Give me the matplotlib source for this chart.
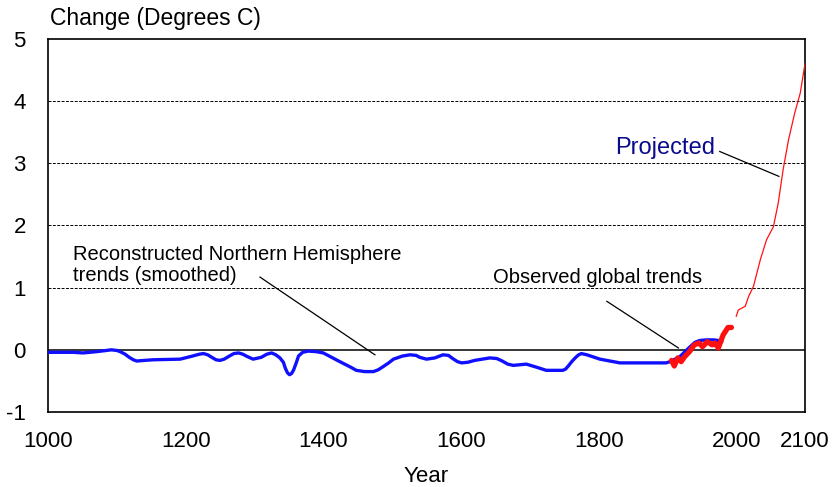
import matplotlib
matplotlib.use("Agg")
import matplotlib.pyplot as plt

plt.rcParams['font.family'] = ['Liberation Sans', 'DejaVu Sans']
plt.rcParams['axes.unicode_minus'] = False

# Reconstructed Northern Hemisphere trends (smoothed)
recon_years = [1000, 1037, 1051, 1070, 1085, 1092, 1100, 1105, 1112, 1118, 1124, 1129, 1140, 1153,
               1192, 1210, 1220, 1226, 1232, 1238, 1244, 1250, 1256, 1262, 1270, 1277, 1283, 1288,
               1298, 1310, 1318, 1325, 1331, 1337, 1342, 1345, 1348, 1351, 1354, 1357, 1361, 1364,
               1370, 1378, 1390, 1400, 1424, 1440, 1448, 1460, 1473, 1480, 1487, 1495, 1502, 1515,
               1526, 1535, 1540, 1550, 1562, 1574, 1582, 1588, 1595, 1601, 1610, 1620, 1642, 1652,
               1660, 1668, 1676, 1695, 1710, 1724, 1748, 1752, 1756, 1761, 1766, 1771, 1775, 1783,
               1802, 1831, 1889, 1898, 1904, 1918, 1933, 1940, 1947, 1957, 1967, 1974, 1979]
recon_vals = [-0.04, -0.04, -0.05, -0.03, -0.01, 0.00, -0.01, -0.03, -0.07, -0.12, -0.16, -0.18, -0.17, -0.16,
              -0.15, -0.10, -0.07, -0.06, -0.08, -0.12, -0.16, -0.17, -0.15, -0.11, -0.06, -0.05, -0.07, -0.10,
              -0.15, -0.12, -0.07, -0.05, -0.08, -0.13, -0.20, -0.30, -0.37, -0.40, -0.38, -0.32, -0.20, -0.10,
              -0.04, -0.02, -0.03, -0.05, -0.19, -0.28, -0.33, -0.35, -0.35, -0.32, -0.27, -0.21, -0.15, -0.10,
              -0.08, -0.09, -0.12, -0.15, -0.13, -0.08, -0.09, -0.14, -0.19, -0.21, -0.20, -0.17, -0.13, -0.14,
              -0.18, -0.23, -0.25, -0.23, -0.28, -0.33, -0.33, -0.31, -0.26, -0.19, -0.13, -0.08, -0.06, -0.08,
              -0.15, -0.21, -0.21, -0.21, -0.19, -0.11, 0.05, 0.12, 0.15, 0.16, 0.16, 0.15, 0.13]

# Observed global trends
obs_years = [1906, 1910, 1915, 1920, 1925, 1932, 1939, 1946, 1951, 1958, 1965, 1969, 1974, 1981, 1988, 1993]
obs_vals = [-0.17, -0.26, -0.13, -0.19, -0.11, -0.03, 0.08, 0.11, 0.05, 0.13, 0.08, 0.11, 0.03, 0.24, 0.36, 0.36]

# Projected
proj_years = [2000, 2003, 2013, 2018, 2025, 2035, 2044, 2054, 2061, 2068, 2076, 2085, 2093, 2100]
proj_vals = [0.54, 0.64, 0.70, 0.86, 1.02, 1.45, 1.77, 1.98, 2.36, 2.89, 3.38, 3.81, 4.13, 4.61]

x_ticks = [1000, 1200, 1400, 1600, 1800, 2000, 2100]
y_ticks = [-1, 0, 1, 2, 3, 4, 5]

fig = plt.figure(figsize=(8.36, 4.87), dpi=100)
ax = fig.add_axes([0.0574, 0.154, 0.9056, 0.766])

for yv in [1, 2, 3, 4]:
    ax.axhline(yv, color='black', linestyle=(0, (3, 1.5)), linewidth=0.7, zorder=1)
ax.axhline(0, color='black', linewidth=1.1, zorder=1)

ax.plot(recon_years, recon_vals, color='#1010ff', linewidth=2.4, zorder=3,
        solid_joinstyle='round', solid_capstyle='round')
ax.plot(obs_years, obs_vals, color='#ff1010', linewidth=3.8, zorder=4,
        solid_capstyle='round', solid_joinstyle='round')
ax.plot(proj_years, proj_vals, color='#ff1010', linewidth=0.9, zorder=4)

ax.set_xlim(1000, 2100)
ax.set_ylim(-1, 5)
ax.set_xticks(x_ticks)
ax.set_yticks(y_ticks)
ax.tick_params(length=0, labelsize=16, pad=14)
ax.tick_params(axis='y', pad=16)
for s in ax.spines.values():
    s.set_linewidth(1.2)
    s.set_color('black')

ax.set_xlabel('Year', fontsize=16, labelpad=10)
fig.text(0.060, 0.962, 'Change (Degrees C)', fontsize=16.5, ha='left', va='center')

ax.text(1036, 1.37, 'Reconstructed Northern Hemisphere\ntrends (smoothed)', fontsize=14.5,
        ha='left', va='center', linespacing=1.15)
ax.plot([1308, 1475], [1.17, -0.08], color='black', linewidth=0.9, zorder=2)

ax.text(1646, 1.16, 'Observed global trends', fontsize=14.5, ha='left', va='center')
ax.plot([1812, 1916], [0.78, 0.03], color='black', linewidth=0.9, zorder=2)

ax.text(1824, 3.25, 'Projected', fontsize=17, ha='left', va='center', color='#0a0a8c')
ax.plot([1976, 2062], [3.19, 2.79], color='black', linewidth=0.9, zorder=2)

fig.savefig('out.png', dpi=100)
